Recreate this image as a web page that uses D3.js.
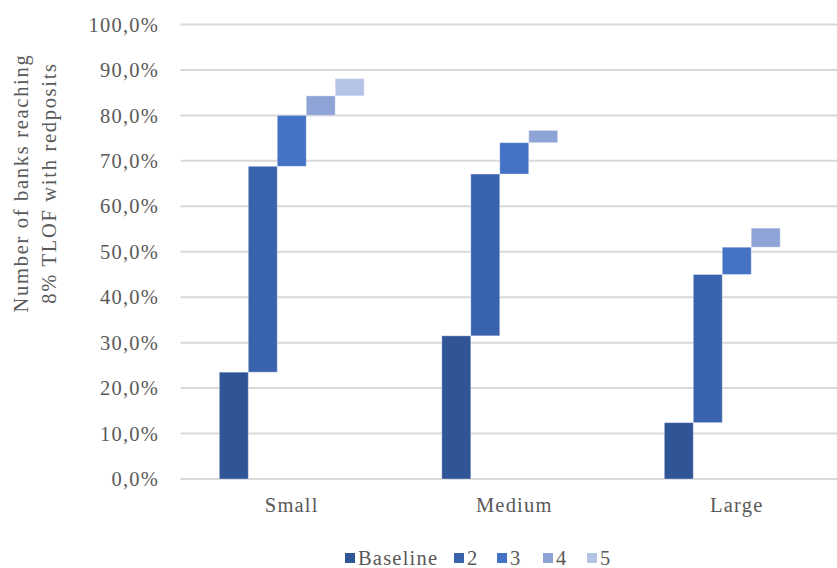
<!DOCTYPE html>
<html><head><meta charset="utf-8">
<script src="https://cdn.jsdelivr.net/npm/d3@7"></script>
<style>body{margin:0;background:#fff}svg{display:block}text{font-family:"Liberation Serif","Times New Roman",serif;fill:#595959}</style>
</head><body>
<svg id="c" width="837" height="568"></svg>
<script>
const categories = ["Small", "Medium", "Large"];
const seriesNames = ["Baseline", "2", "3", "4", "5"];
// increments per step (percentage points)
const baseline = [23.5, 31.5, 12.4];
const step2 = [45.3, 35.6, 32.6];
const step3 = [11.2, 6.9, 6.0];
const step4 = [4.3, 2.7, 4.2];
const step5 = [3.8, 0, 0];
const yTicks = [0, 10, 20, 30, 40, 50, 60, 70, 80, 90, 100];
const colors = ["#2F5597", "#3A63AD", "#4472C4", "#8FA4D6", "#B4C3E6"];

const steps = [baseline, step2, step3, step4, step5];
const rows = [];
categories.forEach((c, ci) => {
  let cum = 0;
  steps.forEach((s, si) => {
    const v = s[ci];
    rows.push({cat: c, series: seriesNames[si], y0: cum, y1: cum + v, color: colors[si]});
    cum += v;
  });
});

const FS = 20.5, LS = 1.2;
const svg = d3.select("#c");
const x = d3.scaleBand().domain(categories).range([180.5, 848]).padding(0);
const xi = d3.scaleBand().domain(seriesNames).range([0, x.bandwidth()]).paddingInner(0).paddingOuter(1.34);
const y = d3.scaleLinear().domain([0, 100]).range([479, 24.5]);

// gridlines
svg.append("g").selectAll("line").data(yTicks).join("line")
  .attr("x1", 180.5).attr("x2", 848)
  .attr("y1", d => y(d)).attr("y2", d => y(d))
  .attr("stroke", "#d9d9d9").attr("stroke-width", 2);

// y tick labels
const fmt = d => d3.format(".1f")(d).replace(".", ",") + "%";
svg.append("g").selectAll("text").data(yTicks).join("text")
  .attr("x", 159).attr("y", d => y(d)).attr("dy", "0.35em")
  .attr("text-anchor", "end").attr("font-size", FS).attr("letter-spacing", LS)
  .text(fmt);

// bars
svg.append("g").selectAll("rect").data(rows.filter(r => r.y1 - r.y0 > 0)).join("rect")
  .attr("x", d => x(d.cat) + xi(d.series))
  .attr("width", xi.bandwidth())
  .attr("y", d => y(d.y1))
  .attr("height", d => y(d.y0) - y(d.y1))
  .attr("fill", d => d.color)
  .attr("stroke", "rgba(255,255,255,0.35)").attr("stroke-width", 1);

// x labels
svg.append("g").selectAll("text").data(categories).join("text")
  .attr("x", d => x(d) + x.bandwidth() / 2).attr("y", 512)
  .attr("text-anchor", "middle").attr("font-size", FS).attr("letter-spacing", LS)
  .text(d => d);

// y title
const yt = svg.append("text").attr("transform", "translate(0,183) rotate(-90)")
  .attr("text-anchor", "middle").attr("font-size", FS).attr("letter-spacing", 1.7);
yt.append("tspan").attr("x", 0).attr("y", 28).text("Number of banks reaching");
yt.append("tspan").attr("x", 0).attr("y", 56).text("8% TLOF with redposits");

// legend
const legX = [345, 454, 497, 543, 587];
const lg = svg.append("g").selectAll("g").data(seriesNames).join("g")
  .attr("transform", (d, i) => `translate(${legX[i]},553)`);
lg.append("rect").attr("width", 10).attr("height", 10).attr("fill", (d, i) => colors[i]);
lg.append("text").attr("x", 13).attr("y", 5).attr("dy", "0.35em")
  .attr("font-size", FS).attr("letter-spacing", LS).text(d => d);
</script>
</body></html>
